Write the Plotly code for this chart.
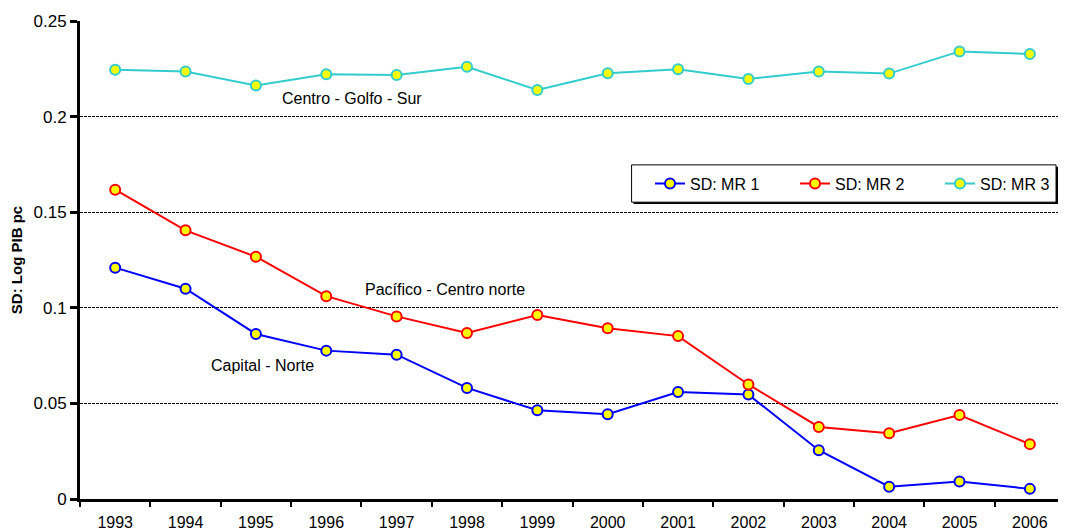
import plotly.graph_objects as go

years = [str(y) for y in range(1993, 2007)]

# SD of log GDP per capita by macro-region
sd_mr1 = [0.1210, 0.1100, 0.0863, 0.0776, 0.0755, 0.0581, 0.0464,
          0.0443, 0.0560, 0.0546, 0.0255, 0.0064, 0.0092, 0.0053]
sd_mr2 = [0.1618, 0.1405, 0.1267, 0.1061, 0.0955, 0.0868, 0.0962,
          0.0893, 0.0852, 0.0599, 0.0377, 0.0344, 0.0439, 0.0287]
sd_mr3 = [0.2245, 0.2236, 0.2163, 0.2222, 0.2218, 0.2261, 0.2139,
          0.2227, 0.2248, 0.2197, 0.2236, 0.2225, 0.2341, 0.2328]

series_names = ["SD: MR 1", "SD: MR 2", "SD: MR 3"]
series_colors = ["#0000FF", "#FF0000", "#33CCCC"]

region_labels = ["Centro - Golfo - Sur", "Pacífico - Centro norte", "Capital - Norte"]

FONT = "Liberation Sans, Arial, sans-serif"

fig = go.Figure()
for name, vals, color in zip(series_names, [sd_mr1, sd_mr2, sd_mr3], series_colors):
    fig.add_trace(
        go.Scatter(
            x=years,
            y=vals,
            name=name,
            mode="lines+markers",
            line=dict(color=color, width=2),
            marker=dict(size=10, color="#FFFF00", line=dict(color=color, width=2)),
        )
    )

# label positions (category index, value) next to each series
label_pos = [(3.37, 0.2096), (4.69, 0.1095), (2.10, 0.0697)]
for text, (x, y) in zip(region_labels, label_pos):
    fig.add_annotation(
        x=x, y=y, text=text, showarrow=False,
        font=dict(family=FONT, size=16, color="black"),
    )

# legend frame with a small drop shadow, drawn as shapes behind the legend
fig.add_shape(type="rect", xref="paper", yref="paper", layer="above",
              x0=0.566, x1=1.0, y0=0.617, y1=0.695,
              fillcolor="black", line=dict(width=0))
fig.add_shape(type="rect", xref="paper", yref="paper", layer="above",
              x0=0.564, x1=0.998, y0=0.621, y1=0.699,
              fillcolor="white", line=dict(color="black", width=1))

# page body has an 8px default margin, so the figure is sized 8px smaller
fig.update_layout(
    width=1077,
    height=523,
    margin=dict(l=72, r=0, t=13, b=32),
    paper_bgcolor="white",
    plot_bgcolor="white",
    font=dict(family=FONT, size=16, color="black"),
    legend=dict(
        orientation="h",
        x=0.583, xanchor="left",
        y=0.660, yanchor="middle",
        borderwidth=0,
        bgcolor="rgba(0,0,0,0)",
        font=dict(size=16),
        entrywidth=100,
    ),
)

fig.update_xaxes(
    type="category",
    range=[-0.5, 13.4],
    automargin=False,
    showline=True, linecolor="black", linewidth=3,
    ticks="outside", tickson="boundaries", ticklen=5, tickwidth=2, tickcolor="black",
    ticklabelstandoff=7,
    showgrid=False,
    tickfont=dict(size=16),
)
fig.update_yaxes(
    range=[0, 0.25],
    dtick=0.05,
    automargin=False,
    showline=True, linecolor="black", linewidth=3,
    ticks="outside", ticklen=7, tickwidth=3, tickcolor="black",
    showgrid=True, gridcolor="black", gridwidth=1, griddash="3px,1px",
    zeroline=False,
    tickfont=dict(size=17),
    title=dict(text="<b>SD: Log PIB pc</b>", font=dict(size=15), standoff=10),
)

fig.write_html("out.html")
